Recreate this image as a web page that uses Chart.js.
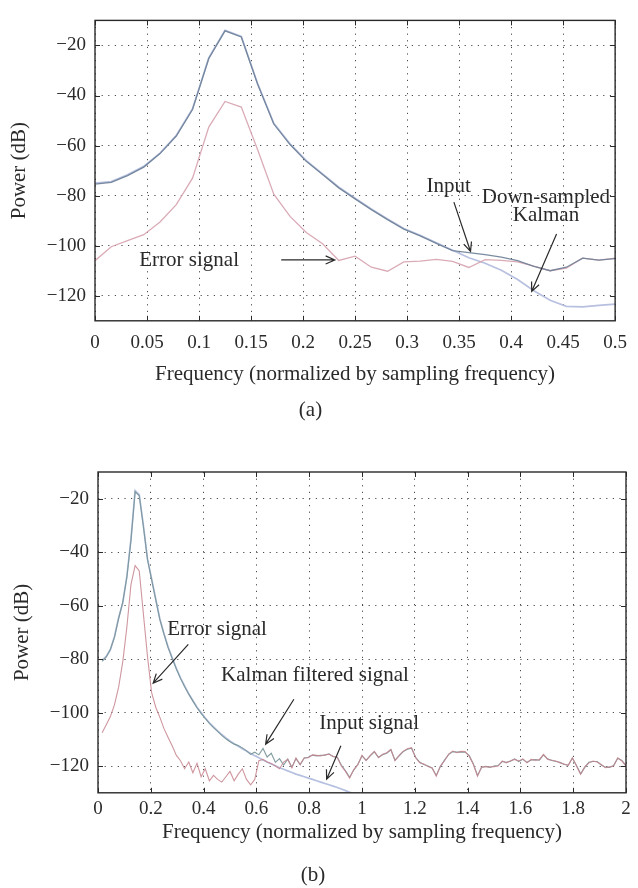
<!DOCTYPE html>
<html>
<head>
<meta charset="utf-8">
<script src="https://cdn.jsdelivr.net/npm/chart.js@4/dist/chart.umd.min.js"></script>
<style>
  html, body { margin: 0; padding: 0; background: #fff; }
  #wrap { position: relative; width: 638px; height: 888px; }
  .panel { position: absolute; left: 0; width: 638px; }
  #pa { top: 0; height: 430px; }
  #pb { top: 430px; height: 458px; }
</style>
</head>
<body>
<div id="wrap">
  <div class="panel" id="pa"><canvas id="chartA" width="638" height="430"></canvas></div>
  <div class="panel" id="pb"><canvas id="chartB" width="638" height="458"></canvas></div>
</div>
<script>
// ---- data, panel (a): samples every 1/64 from 0 to 0.5
var topStep = 1 / 64;
var topInput = [-75.4, -74.7, -72.0, -68.6, -63.2, -56.2, -45.6, -25.2, -14.2, -16.6,
  -35.4, -51.4, -59.6, -66.3, -71.6, -76.9, -81.3, -85.6, -89.6, -93.4,
  -96.1, -99.1, -102.0, -102.8, -103.6, -104.6, -106.0, -108.3, -110.0, -108.6,
  -105.0, -105.8, -105.2];
var topKalman = [-75.0, -74.4, -71.7, -68.3, -63.0, -56.0, -45.3, -25.0, -14.0, -16.4,
  -35.1, -51.1, -59.3, -66.0, -71.3, -76.6, -81.0, -85.3, -89.3, -93.1,
  -95.8, -98.8, -101.8, -104.8, -107.0, -109.8, -113.5, -118.0, -121.8, -124.2,
  -124.4, -123.8, -123.3];
var topError = [-106.0, -100.4, -98.0, -95.6, -90.5, -83.6, -73.0, -52.6, -42.4, -44.6,
  -61.6, -79.4, -88.3, -94.7, -99.2, -105.9, -104.2, -108.6, -110.2, -106.5,
  -106.2, -105.5, -106.3, -108.7, -105.6, -105.9, -106.5, -108.2, -110.0, -109.0,
  -105.0, -105.8, -105.0];
var topXTicks = [0, 0.05, 0.1, 0.15, 0.2, 0.25, 0.3, 0.35, 0.4, 0.45, 0.5];

// ---- data, panel (b): samples every 1/64 from 1/64 to 2
var botStep = 1 / 64;
var botInput = [-80.5, -79, -76.5, -71.5, -64.5, -59, -49, -35, -17, -18.5,
  -30, -42.5, -50, -57.5, -65, -70.5, -75.5, -79.5, -83.5, -87,
  -90, -93, -95.5, -98, -100, -102, -103.8, -105.3, -106.8, -108.2,
  -109.5, -110.6, -111.6, -112.6, -113.5, -114.4, -115.3, -116.1, -116.9, -117.7,
  -118.5, -119.2, -119.9, -120.6, -121.2, -121.8, -122.4, -123, -123.5, -124,
  -124.5, -125, -125.5, -126, -126.5, -127, -127.5, -128, -128.6, -129.2,
  -129.8, -130.4, -131, -131.6];
var botKalman = [-80.8, -79.2, -76.3, -71.8, -64.8, -58.7, -49.3, -35.4, -17.4, -18.9,
  -30.4, -42.8, -50.3, -57.8, -65.2, -70.7, -75.7, -79.8, -83.7, -87.2,
  -90.3, -93.1, -95.7, -98.2, -100.3, -102.2, -104, -105.6, -107, -108.5,
  -109.8, -110.9, -111.8, -112.3, -113.2, -114.3, -115.6, -114.8, -115.8, -113.4,
  -116.6, -115.2, -118.6, -117.2, -119.6, -117.4, -120.4, -117.2, -119.4, -117,
  -116.7, -115.9, -116.2, -116, -115.9, -115.4, -116.5, -116.6, -119.7, -121.8,
  -124.2, -121.5, -119.3, -116.2, -117.8, -116.2, -114.7, -116.7, -115.8, -115.2,
  -113.9, -117.8, -116.2, -114.6, -113.7, -113.3, -116.7, -118.6, -119.4, -120,
  -120.8, -123.5, -120.2, -117.8, -115.7, -114.6, -114.8, -114.7, -114.8, -116.1,
  -119.2, -123.5, -120.5, -120.1, -120.5, -120, -119.8, -118.3, -118.6, -118.2,
  -117.3, -118.3, -117.5, -118.6, -117.7, -117.6, -117.8, -115.8, -117.3, -117.9,
  -118.3, -118.6, -119.4, -119.6, -117.1, -119.8, -122.9, -120.5, -118.6, -118.3,
  -118.3, -119.6, -120.4, -120.5, -119.8, -117.1, -117.9, -119.8];
var botError = [-107.5, -104.5, -101.5, -97, -90.5, -81, -68, -52, -45, -47,
  -63, -79, -92.5, -98, -101.8, -106, -109.3, -112.5, -116, -118,
  -121, -118.5, -122.5, -119, -124, -121, -125.5, -123.5, -125, -126,
  -124, -122, -125.5, -123, -121, -125, -127, -125, -118, -117.5,
  -118.5, -119, -120, -121, -118.5, -117.5, -120.6, -117, -119.5, -117,
  -116.9, -115.8, -116, -116.2, -115.8, -115.6, -116.3, -116.8, -120, -122,
  -124.5, -121.3, -119.5, -116, -118, -116, -114.5, -116.9, -115.6, -115,
  -113.8, -118, -116, -114.4, -113.5, -113.1, -116.9, -118.8, -119.2, -120.2,
  -120.6, -123.8, -120, -118, -115.5, -114.4, -115, -114.5, -114.6, -116.3,
  -119.4, -123.8, -120.3, -120.3, -120.3, -120.2, -120, -118.1, -118.8, -118,
  -117.5, -118.1, -117.3, -118.8, -117.5, -117.8, -117.6, -115.6, -117.5, -117.8,
  -118.1, -118.8, -119.2, -119.8, -116.9, -120, -123.1, -120.3, -118.8, -118.1,
  -118.5, -119.4, -120.6, -120.3, -120, -116.9, -118.1, -120];
var botXTicks = [0, 0.2, 0.4, 0.6, 0.8, 1, 1.2, 1.4, 1.6, 1.8, 2];

var yTicks = [-120, -100, -80, -60, -40, -20];

// annotation labels and arrows, in data units
var topNotes = {
  texts: [
    { t: 'Error signal', x: 0.0905, y: -106 },
    { t: 'Input', x: 0.340, y: -76.2 },
    { t: 'Down-sampled', x: 0.4335, y: -80.6 },
    { t: 'Kalman', x: 0.4335, y: -87.9 }
  ],
  arrows: [
    { x1: 0.179, y1: -105.7, x2: 0.2305, y2: -105.7 },
    { x1: 0.345, y1: -82.6, x2: 0.361, y2: -102.3 },
    { x1: 0.4437, y1: -95.3, x2: 0.4198, y2: -118.3 }
  ]
};
var botNotes = {
  texts: [
    { t: 'Error signal', x: 0.451, y: -68.9 },
    { t: 'Kalman filtered signal', x: 0.822, y: -86 },
    { t: 'Input signal', x: 1.027, y: -104 }
  ],
  arrows: [
    { x1: 0.342, y1: -74.5, x2: 0.209, y2: -89 },
    { x1: 0.742, y1: -95, x2: 0.635, y2: -111.8 },
    { x1: 0.920, y1: -112.4, x2: 0.866, y2: -124.9 }
  ]
};

var serif = "'Liberation Serif', 'DejaVu Serif', serif";
var ink = '#2a2a2a';

function toPoints(vals, step, first) {
  return vals.map(function (v, i) { return { x: (i + first) * step, y: v }; });
}

// box with inward ticks, like the matlab axes
var framePlugin = {
  id: 'frame',
  afterDatasetsDraw: function (chart) {
    var ctx = chart.ctx, a = chart.chartArea, xs = chart.scales.x, ys = chart.scales.y;
    ctx.save();
    ctx.strokeStyle = ink;
    ctx.lineWidth = 1;
    ctx.beginPath();
    xs.ticks.forEach(function (t) {
      var px = Math.round(xs.getPixelForValue(t.value)) + 0.5;
      ctx.moveTo(px, a.bottom); ctx.lineTo(px, a.bottom - 5);
      ctx.moveTo(px, a.top); ctx.lineTo(px, a.top + 5);
    });
    ys.ticks.forEach(function (t) {
      var py = Math.round(ys.getPixelForValue(t.value)) + 0.5;
      ctx.moveTo(a.left, py); ctx.lineTo(a.left + 5, py);
      ctx.moveTo(a.right, py); ctx.lineTo(a.right - 5, py);
    });
    ctx.stroke();
    ctx.lineWidth = 1.4;
    ctx.strokeRect(a.left, a.top, a.right - a.left, a.bottom - a.top);
    ctx.restore();
  }
};

function drawArrow(ctx, x1, y1, x2, y2) {
  var ang = Math.atan2(y2 - y1, x2 - x1), h = 10, s = 0.42;
  ctx.beginPath();
  ctx.moveTo(x1, y1); ctx.lineTo(x2, y2);
  ctx.moveTo(x2 - h * Math.cos(ang - s), y2 - h * Math.sin(ang - s));
  ctx.lineTo(x2, y2);
  ctx.lineTo(x2 - h * Math.cos(ang + s), y2 - h * Math.sin(ang + s));
  ctx.stroke();
}

var notesPlugin = {
  id: 'notes',
  afterDraw: function (chart, args, opts) {
    var ctx = chart.ctx, xs = chart.scales.x, ys = chart.scales.y;
    ctx.save();
    ctx.fillStyle = ink;
    ctx.strokeStyle = ink;
    ctx.lineWidth = 1.2;
    ctx.font = '21px ' + serif;
    ctx.textAlign = 'center';
    ctx.textBaseline = 'middle';
    (opts.texts || []).forEach(function (n) {
      ctx.fillText(n.t, xs.getPixelForValue(n.x), ys.getPixelForValue(n.y));
    });
    (opts.arrows || []).forEach(function (r) {
      drawArrow(ctx, xs.getPixelForValue(r.x1), ys.getPixelForValue(r.y1),
        xs.getPixelForValue(r.x2), ys.getPixelForValue(r.y2));
    });
    ctx.restore();
  }
};

function line(label, pts, color, width) {
  return { label: label, data: pts, borderColor: color, borderWidth: width,
    pointRadius: 0, tension: 0, fill: false };
}

function makeChart(id, cfg) {
  return new Chart(document.getElementById(id), {
    type: 'line',
    data: { datasets: cfg.datasets },
    options: {
      responsive: false,
      animation: false,
      devicePixelRatio: 1,
      layout: { padding: cfg.pad },
      plugins: {
        legend: { display: false },
        tooltip: { enabled: false },
        title: {
          display: true, position: 'bottom', text: cfg.caption, color: ink,
          font: { family: serif, size: 21, weight: 'normal' },
          padding: cfg.captionPad
        },
        notes: cfg.notes
      },
      scales: {
        x: {
          type: 'linear', min: cfg.xMin, max: cfg.xMax,
          afterBuildTicks: function (s) { s.ticks = cfg.xTicks.map(function (v) { return { value: v }; }); },
          afterFit: function (s) { s.height = cfg.xHeight; },
          grid: { color: '#4a4a4a', lineWidth: 1, drawTicks: false },
          border: { display: false, dash: [1.2, 5.4] },
          ticks: { padding: cfg.xTickPad, color: ink, maxRotation: 0, autoSkip: false,
            font: { family: serif, size: 19 },
            callback: function (v) { return String(v); } },
          title: { display: true, text: 'Frequency (normalized by sampling frequency)', color: ink,
            font: { family: serif, size: 21 }, padding: { top: 0, bottom: cfg.xTitlePad } }
        },
        y: {
          min: -130, max: -10,
          afterBuildTicks: function (s) { s.ticks = yTicks.map(function (v) { return { value: v }; }); },
          afterFit: function (s) { s.width = cfg.yWidth; },
          grid: { color: '#4a4a4a', lineWidth: 1, drawTicks: false },
          border: { display: false, dash: [1.2, 5.4] },
          ticks: { padding: 9, color: ink, font: { family: serif, size: 19 },
            callback: function (v) { return v < 0 ? '\u2212' + Math.abs(v) : String(v); } },
          title: { display: true, text: 'Power (dB)', color: ink,
            font: { family: serif, size: 21 }, padding: { top: cfg.yTitlePad, bottom: 0 } }
        }
      }
    },
    plugins: [framePlugin, notesPlugin]
  });
}

makeChart('chartA', {
  datasets: [
    line('Input', toPoints(topInput, topStep, 0), 'rgba(108,128,150,0.9)', 1.3),
    line('Error signal', toPoints(topError, topStep, 0), 'rgba(214,162,174,0.9)', 1.3),
    line('Down-sampled Kalman', toPoints(topKalman, topStep, 0), '#b8c0e0', 1.7)
  ],
  pad: { top: 7, right: 17, left: 0, bottom: 0 },
  caption: '(a)', captionPad: { top: 5, bottom: 7 },
  xMin: 0, xMax: 0.5, xTicks: topXTicks, xHeight: 72, xTickPad: 11, xTitlePad: 6,
  yWidth: 95, yTitlePad: 7,
  notes: topNotes
});

makeChart('chartB', {
  datasets: [
    line('Error signal', toPoints(botError, botStep, 1), 'rgba(198,132,142,0.85)', 1.1),
    line('Kalman filtered signal', toPoints(botKalman, botStep, 1), 'rgba(118,146,150,0.9)', 1.1),
    line('Input signal', toPoints(botInput, botStep, 1), '#b6c0e0', 1.7)
  ],
  pad: { top: 42, right: 12, left: 0, bottom: 0 },
  caption: '(b)', captionPad: { top: 15, bottom: 0 },
  xMin: 0, xMax: 2, xTicks: botXTicks, xHeight: 55, xTickPad: 5, xTitlePad: 3,
  yWidth: 98, yTitlePad: 10,
  notes: botNotes
});
</script>
</body>
</html>
